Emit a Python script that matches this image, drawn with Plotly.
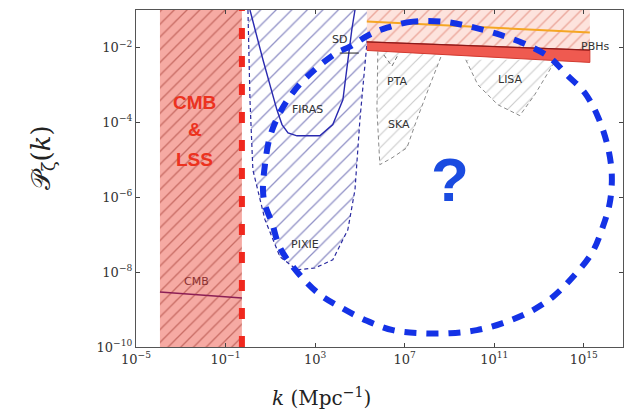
import numpy as np
import plotly.graph_objects as go

# All curves are stored as log10 exponents: log10(k / Mpc^-1) and log10(P_zeta)
# Observational reach of CMB & large-scale structure
cmb_region_logk = [-3.93, -0.27, -0.27, -3.93]
cmb_region_logp = [-10.0, -10.0, -1.0, -1.0]
cmb_line_logk = [-3.93, -0.27]
cmb_line_logp = [-8.53, -8.69]
cmb_edge_logk = [-0.27, -0.27]
cmb_edge_logp = [-10.0, -1.0]

# Spectral distortions: PIXIE forecast (dashed) and FIRAS bound (solid)
pixie_logk = [0.0, 0.09, 0.22, 0.76, 1.43, 2.19, 2.99, 3.79, 4.46, 4.78, 5.0, 5.27, 5.45]
pixie_logp = [-1.0, -3.4, -5.27, -6.6, -7.59, -7.94, -7.89, -7.67, -6.87, -5.8, -3.93, -2.06, -1.0]
firas_logk = [0.09, 0.67, 1.29, 1.52, 1.79, 2.19, 3.21, 3.79, 4.24, 4.46, 4.64, 4.78]
firas_logp = [-1.0, -2.33, -3.66, -4.06, -4.28, -4.36, -4.36, -4.06, -3.4, -2.33, -1.52, -1.0]
sd_tick_logk = [4.1, 4.95]
sd_tick_logp = [-2.15, -2.15]

# Primordial black holes
pbh_logk = [5.31, 15.27]
pbh_band_top = [-1.85, -2.07]
pbh_band_bottom = [-2.08, -2.40]
pbh_orange = [-1.31, -1.60]

# Gravitational-wave experiments
ska_logk = [5.80, 5.76, 5.89, 6.43, 7.10, 7.54, 8.13, 8.71]
ska_logp = [-2.11, -3.66, -5.13, -4.95, -4.68, -3.93, -3.0, -2.11]
pta_logk = [6.07, 6.43, 6.70]
pta_logp = [-2.2, -2.5, -2.2]
lisa_logk = [9.73, 10.27, 11.16, 12.14, 12.81, 13.62, 13.93]
lisa_logp = [-2.33, -3.0, -3.53, -3.82, -3.26, -2.46, -2.33]

# Unconstrained window
loop_logk = [8.71, 7.37, 6.21, 5.36, 4.55, 3.97, 2.99, 2.10, 1.43, 0.98, 0.76, 0.67, 0.76,
             1.07, 1.43, 2.19, 3.13, 4.11, 5.31, 6.47, 7.68, 9.02, 10.22, 11.38, 12.59,
             13.62, 14.51, 15.36, 15.85, 16.16, 16.25, 16.07, 15.63, 15.04, 14.24, 13.48,
             12.46, 11.25, 9.91, 8.71]
loop_logp = [-1.31, -1.31, -1.47, -1.68, -1.98, -2.14, -2.59, -3.13, -3.74, -4.39, -5.13,
             -5.80, -6.20, -6.68, -7.35, -7.99, -8.56, -8.93, -9.30, -9.55, -9.63, -9.63,
             -9.55, -9.36, -9.06, -8.66, -8.13, -7.49, -6.79, -6.15, -5.40, -4.65, -3.85,
             -3.21, -2.73, -2.27, -1.93, -1.66, -1.44, -1.31]

x_tick_exp = [-5, -1, 3, 7, 11, 15]
y_tick_exp = [-10, -8, -6, -4, -2]


def p(v):
    return 10.0 ** np.asarray(v, dtype=float)


fig = go.Figure()

fig.add_trace(go.Scatter(
    x=p(cmb_region_logk), y=p(cmb_region_logp), fill="toself", mode="lines",
    line=dict(width=0), fillcolor="#f6aaa3",
    fillpattern=dict(shape="/", fgcolor="#9a2e26", bgcolor="#f6aaa3", size=9, solidity=0.15),
    hoverinfo="skip"))
fig.add_trace(go.Scatter(
    x=p(cmb_line_logk), y=p(cmb_line_logp), mode="lines",
    line=dict(color="#8c1f55", width=1.6), hoverinfo="skip"))

fig.add_trace(go.Scatter(
    x=p(pixie_logk), y=p(pixie_logp), fill="toself", mode="lines",
    line=dict(color="#2a2aa0", width=1.2, dash="4px,3px"), fillcolor="white",
    fillpattern=dict(shape="/", fgcolor="#262690", bgcolor="white", size=11, solidity=0.12),
    hoverinfo="skip"))
fig.add_trace(go.Scatter(
    x=p(firas_logk), y=p(firas_logp), mode="lines",
    line=dict(color="#2a2ab0", width=1.4), hoverinfo="skip"))
fig.add_trace(go.Scatter(
    x=p(sd_tick_logk), y=p(sd_tick_logp), mode="lines",
    line=dict(color="#222222", width=1), hoverinfo="skip"))

fig.add_trace(go.Scatter(
    x=p([pbh_logk[0], pbh_logk[1], pbh_logk[1], pbh_logk[0]]),
    y=p([-1.0, -1.0, pbh_band_top[1], pbh_band_top[0]]),
    fill="toself", mode="lines", line=dict(width=0), fillcolor="#fde3dd",
    fillpattern=dict(shape="/", fgcolor="#d9705e", bgcolor="#fde3dd", size=9, solidity=0.16),
    hoverinfo="skip"))

fig.add_trace(go.Scatter(
    x=p(ska_logk), y=p(ska_logp), fill="toself", mode="lines",
    line=dict(color="#8a8a8a", width=1, dash="4px,3px"), fillcolor="white",
    fillpattern=dict(shape="/", fgcolor="#999999", bgcolor="white", size=9, solidity=0.13),
    hoverinfo="skip"))
fig.add_trace(go.Scatter(
    x=p(pta_logk), y=p(pta_logp), mode="lines",
    line=dict(color="#707070", width=1, dash="4px,3px"), hoverinfo="skip"))
fig.add_trace(go.Scatter(
    x=p(lisa_logk), y=p(lisa_logp), fill="toself", mode="lines",
    line=dict(color="#8a8a8a", width=1, dash="4px,3px"), fillcolor="white",
    fillpattern=dict(shape="/", fgcolor="#999999", bgcolor="white", size=9, solidity=0.13),
    hoverinfo="skip"))

fig.add_trace(go.Scatter(
    x=p([pbh_logk[0], pbh_logk[1], pbh_logk[1], pbh_logk[0]]),
    y=p([pbh_band_top[0], pbh_band_top[1], pbh_band_bottom[1], pbh_band_bottom[0]]),
    fill="toself", mode="lines", line=dict(color="#d23a30", width=1), fillcolor="#ef5a50",
    hoverinfo="skip"))
fig.add_trace(go.Scatter(
    x=p(pbh_logk), y=p(pbh_band_top), mode="lines",
    line=dict(color="#8a1a1a", width=1.2), hoverinfo="skip"))
fig.add_trace(go.Scatter(
    x=p(pbh_logk), y=p(pbh_orange), mode="lines",
    line=dict(color="#f5a623", width=2), hoverinfo="skip"))

fig.add_trace(go.Scatter(
    x=p(loop_logk), y=p(loop_logp), mode="lines", line_shape="spline",
    line=dict(color="#1432e6", width=6, dash="12px,10px"), hoverinfo="skip"))

fig.add_trace(go.Scatter(
    x=p(cmb_edge_logk), y=p(cmb_edge_logp), mode="lines",
    line=dict(color="#f0281e", width=6, dash="11px,17px"), hoverinfo="skip"))

label_font = dict(family="DejaVu Sans, sans-serif", size=11, color="#333333")
annotations = []
for txt, lx, ly in [("FIRAS", 2.68, -3.66), ("SD", 4.11, -1.79), ("PIXIE", 2.54, -7.27),
                    ("PTA", 6.65, -2.91), ("SKA", 6.74, -4.06), ("LISA", 11.74, -2.86),
                    ("PBHs", 15.49, -1.98)]:
    annotations.append(dict(x=lx, y=ly, xref="x", yref="y", text=txt, showarrow=False,
                            font=label_font))
annotations.append(dict(x=-2.28, y=-8.26, xref="x", yref="y", text="CMB", showarrow=False,
                        font=dict(family="DejaVu Sans, sans-serif", size=11, color="#8a3030")))
for txt, ly in [("CMB", -3.48), ("&amp;", -4.20), ("LSS", -5.0)]:
    annotations.append(dict(x=-2.37, y=ly, xref="x", yref="y", text="<b>" + txt + "</b>",
                            showarrow=False,
                            font=dict(family="Liberation Sans, Arial, sans-serif", size=19,
                                      color="#ec321f")))
annotations.append(dict(x=9.02, y=-5.53, xref="x", yref="y", text="<b>?</b>", showarrow=False,
                        font=dict(family="Liberation Sans, Arial, sans-serif", size=62,
                                  color="#1a4be0")))
# Axis titles
annotations.append(dict(x=-0.193, y=0.56, xref="paper", yref="paper", xanchor="center",
                        yanchor="middle", text="𝒫<sub>ζ</sub>(<i>k</i>)", textangle=-90,
                        showarrow=False,
                        font=dict(family="DejaVu Serif, serif", size=26, color="#222222")))
annotations.append(dict(x=0.38, y=-0.148, xref="paper", yref="paper", xanchor="center",
                        yanchor="middle", text="<i>k</i> (Mpc<sup>−1</sup>)", showarrow=False,
                        font=dict(family="DejaVu Serif, serif", size=20, color="#222222")))

fig.update_layout(
    width=641, height=418, margin=dict(l=136, r=18, t=10, b=71),
    paper_bgcolor="white", plot_bgcolor="white", showlegend=False,
    annotations=annotations,
    xaxis=dict(type="log", range=[-5, 16.75], showgrid=False, zeroline=False,
               tickvals=[10.0 ** e for e in x_tick_exp],
               ticktext=["10<sup>%s</sup>" % str(e).replace("-", "−") for e in x_tick_exp],
               ticks="inside", ticklen=4, tickcolor="#444", mirror="allticks",
               showline=True, linecolor="#555", linewidth=1.2,
               tickfont=dict(family="DejaVu Serif, serif", size=13, color="#333")),
    yaxis=dict(type="log", range=[-10, -1], showgrid=False, zeroline=False,
               tickvals=[10.0 ** e for e in y_tick_exp],
               ticktext=["10<sup>%s</sup>" % str(e).replace("-", "−") for e in y_tick_exp],
               ticks="inside", ticklen=4, tickcolor="#444", mirror="allticks",
               showline=True, linecolor="#555", linewidth=1.2,
               tickfont=dict(family="DejaVu Serif, serif", size=13, color="#333")),
)

fig.write_html("out.html")
